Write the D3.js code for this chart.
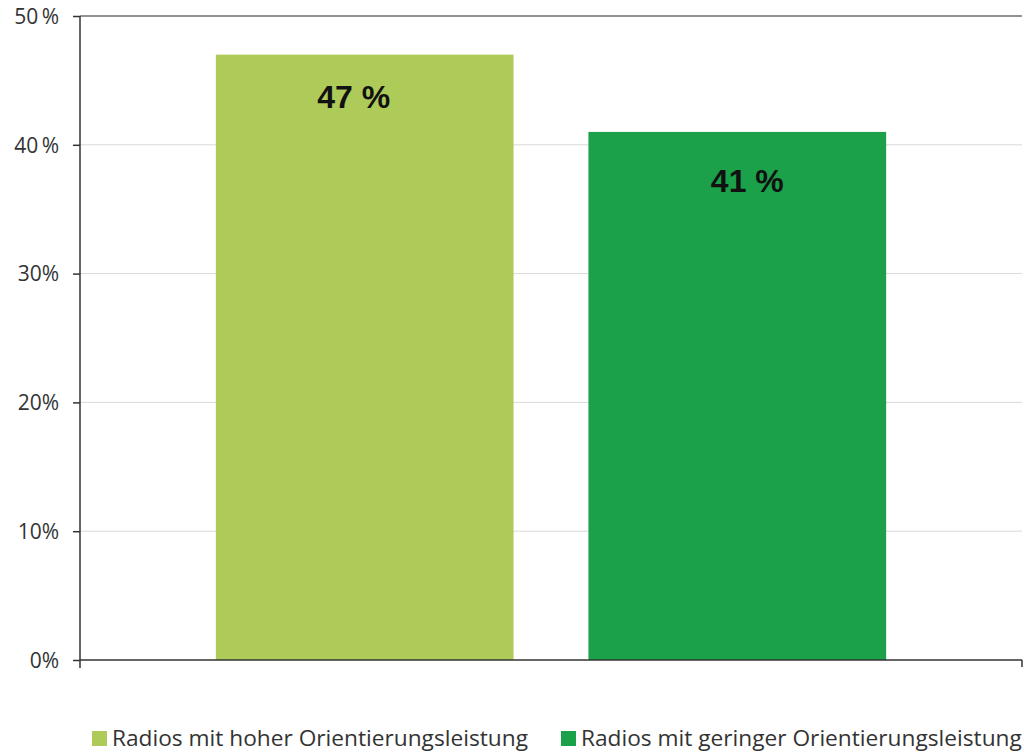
<!DOCTYPE html>
<html>
<head>
<meta charset="utf-8">
<script src="https://cdn.jsdelivr.net/npm/d3@7"></script>
<style>
  html, body { margin: 0; padding: 0; background: #fff; }
  svg { display: block; }
</style>
</head>
<body>
<svg id="chart" width="1024" height="752"></svg>
<script>
// Share of radios, by orientation performance
const seriesNames = ["Radios mit hoher Orientierungsleistung", "Radios mit geringer Orientierungsleistung"];
const seriesValues = [47, 41];
const seriesColors = ["#aecb5a", "#1ba14a"];
const yTicks = [0, 10, 20, 30, 40, 50];
const yTickLabels = ["0%", "10%", "20%", "30%", "40\u2009%", "50\u2009%"];

const svg = d3.select("#chart");
const plotLeft = 80, plotRight = 1022, plotTop = 16, plotBottom = 660;

const x = d3.scaleBand()
  .domain(seriesNames)
  .range([plotLeft, plotRight])
  .paddingInner(0.201)
  .paddingOuter(0.3646);

const y = d3.scaleLinear().domain([0, 50]).range([plotBottom, plotTop]);

// horizontal gridlines
svg.append("g")
  .selectAll("line")
  .data(yTicks.filter(t => t > 0))
  .join("line")
  .attr("x1", plotLeft).attr("x2", plotRight)
  .attr("y1", d => y(d)).attr("y2", d => y(d))
  .attr("stroke", d => d === 50 ? "#6e6e6e" : "#d9d9d9")
  .attr("stroke-width", d => d === 50 ? 1.5 : 1);

// bars
svg.append("g")
  .selectAll("rect")
  .data(seriesNames)
  .join("rect")
  .attr("x", d => x(d))
  .attr("y", (d, i) => y(seriesValues[i]))
  .attr("width", x.bandwidth())
  .attr("height", (d, i) => plotBottom - y(seriesValues[i]))
  .attr("fill", (d, i) => seriesColors[i]);

// value labels inside the bars (hand-nudged placement per label)
const labelShiftX = [-11, 10];
const labelShiftY = [53, 60];
svg.append("g")
  .selectAll("text")
  .data(seriesNames)
  .join("text")
  .attr("x", (d, i) => x(d) + x.bandwidth() / 2 + labelShiftX[i])
  .attr("y", (d, i) => y(seriesValues[i]) + labelShiftY[i])
  .attr("text-anchor", "middle")
  .attr("font-family", "'Liberation Sans', Arial, sans-serif")
  .attr("font-weight", "bold")
  .attr("font-size", 32)
  .attr("fill", "#111")
  .text((d, i) => seriesValues[i] + " %");

// y axis
const yAxis = d3.axisLeft(y)
  .tickValues(yTicks)
  .tickFormat((d, i) => yTickLabels[i])
  .tickSize(7)
  .tickPadding(14);
const gy = svg.append("g").attr("transform", `translate(${plotLeft},0)`).call(yAxis);
gy.select(".domain").attr("stroke", "#333").attr("stroke-width", 1.5).attr("d", `M0,${plotTop}V${plotBottom + 8}`);
gy.selectAll(".tick line").attr("stroke", "#333").attr("stroke-width", 1.5);
gy.selectAll(".tick text")
  .attr("font-family", "'Open Sans', sans-serif")
  .attr("font-size", 21)
  .attr("fill", "#333")
  .attr("dy", "0.35em");

// x axis baseline with end tick
const gx = svg.append("g").attr("transform", `translate(0,${plotBottom})`);
gx.append("line").attr("x1", plotLeft).attr("x2", plotRight).attr("y1", 0).attr("y2", 0)
  .attr("stroke", "#333").attr("stroke-width", 1.5);
gx.append("line").attr("x1", plotRight).attr("x2", plotRight).attr("y1", 0).attr("y2", 7)
  .attr("stroke", "#333").attr("stroke-width", 1.5);

// legend
const legendX = [92, 561];
const lg = svg.append("g")
  .selectAll("g")
  .data(seriesNames)
  .join("g")
  .attr("transform", (d, i) => `translate(${legendX[i]},731)`);
lg.append("rect").attr("width", 15).attr("height", 15).attr("fill", (d, i) => seriesColors[i]);
lg.append("text")
  .attr("x", 20).attr("y", 15)
  .attr("font-family", "'Open Sans', sans-serif")
  .attr("font-size", 22.7)
  .attr("fill", "#333")
  .text(d => d);
</script>
</body>
</html>
